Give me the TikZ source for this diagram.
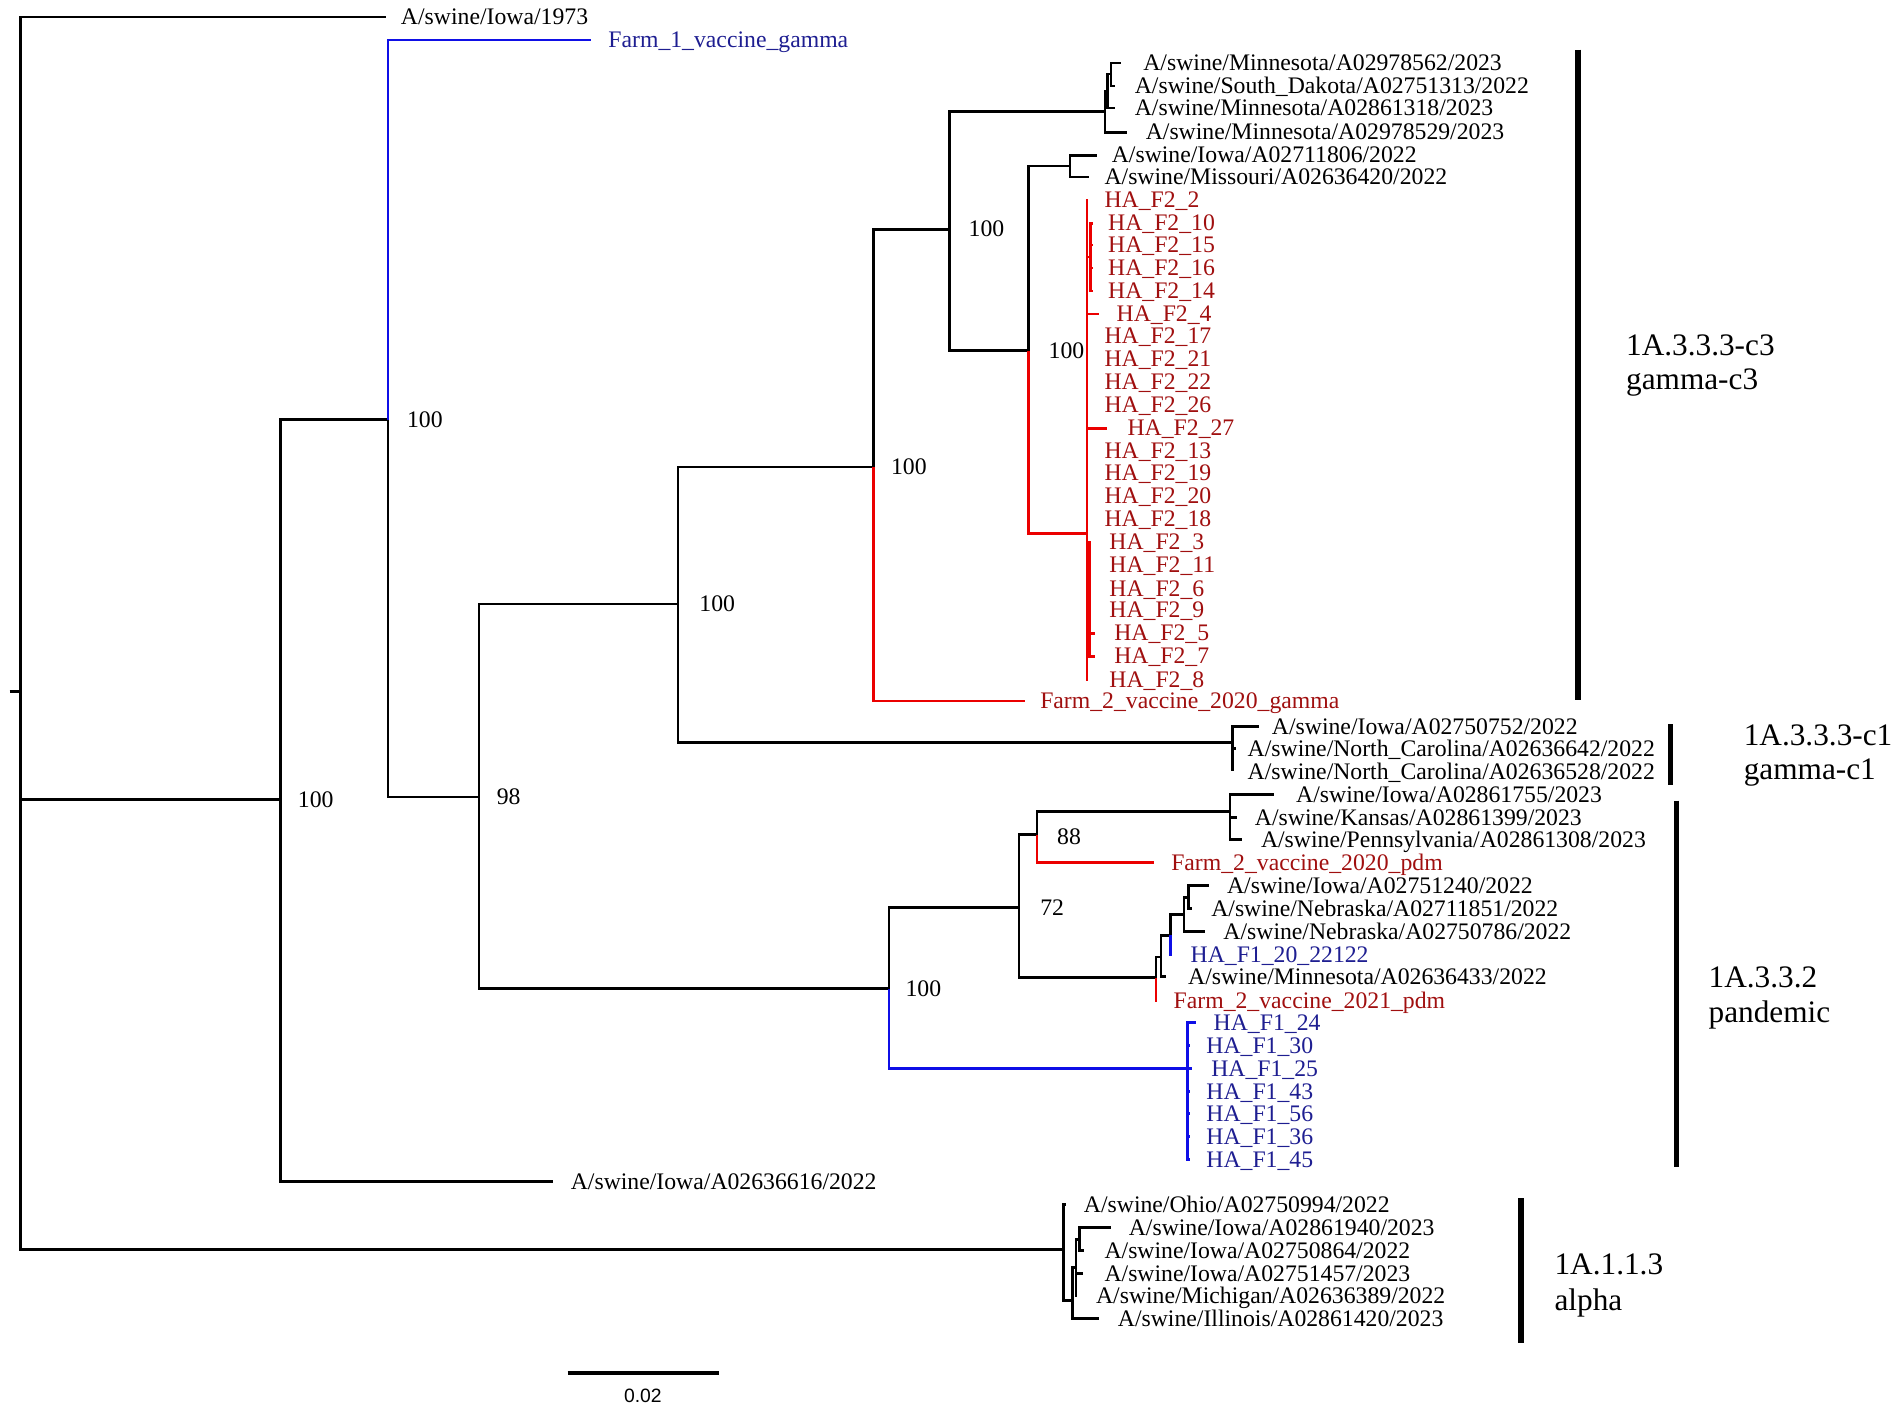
\documentclass[tikz,border=0pt]{standalone}
\usepackage{fontspec}
\setmainfont{Liberation Serif}
\newfontfamily\scalebarfont{Liberation Sans}
\definecolor{lred}{RGB}{235,0,0}
\definecolor{tred}{RGB}{160,15,15}
\definecolor{lblue}{RGB}{15,15,230}
\definecolor{tblue}{RGB}{30,30,145}
\newcommand{\phybr}[3][tree]{\draw[#1] (#2) |- (#3);}
\begin{document}
\begin{tikzpicture}[x=0.01213cm,y=-0.01213cm,
  tree/.style={line width=0.75pt,black},
  rtree/.style={line width=0.75pt,lred},
  btree/.style={line width=0.75pt,lblue},
  lbl/.style={anchor=base west,inner sep=0pt,yshift=-2.2pt,font=\fontsize{6.75}{7}\selectfont},
  rlbl/.style={lbl,text=tred},
  blbl/.style={lbl,text=tblue},
  cladebar/.style={line width=1.6pt},
  cladetxt/.style={anchor=base west,inner sep=0pt,font=\fontsize{8.9}{10}\selectfont}]
\useasboundingbox (0,0) rectangle (1568,1167);

% ---------- internal nodes ----------
\coordinate (stub) at (8,570);
\coordinate (root) at (17,570);
\coordinate (A) at (231,659);
\coordinate (B) at (320,346);
\coordinate (C) at (395,657);
\coordinate (D) at (559,498);
\coordinate (E) at (720,385);
\coordinate (F) at (783,189);
\coordinate (G) at (848,289);
\coordinate (M0) at (911,92);
\coordinate (M1) at (913,75);
\coordinate (M2) at (916,61);
\coordinate (IM) at (882,137);
\coordinate (H) at (896,440);
\coordinate (H1) at (899,212);
\coordinate (H2) at (898,494);
\coordinate (G1) at (1016,612);
\coordinate (P) at (733,815);
\coordinate (Q) at (840,748);
\coordinate (R) at (855,688);
\coordinate (T) at (1014,669);
\coordinate (S) at (953,806);
\coordinate (S2) at (957,789);
\coordinate (S3) at (965,771);
\coordinate (S4) at (976,754);
\coordinate (S5) at (980,740);
\coordinate (HF) at (979,881);
\coordinate (AL0) at (877,1030);
\coordinate (AL1) at (884,1072);
\coordinate (AL2) at (887,1045);
\coordinate (AL3) at (890,1022);

% ---------- tips ----------
\coordinate (t1973) at (318,14);
\coordinate (tF1) at (487,33);
\coordinate (t616) at (456,974);
\coordinate (tF2g) at (845,578);
\coordinate (t562) at (924,52);
\coordinate (tSD) at (919,71);
\coordinate (t318) at (919,89);
\coordinate (t529) at (929,109);
\coordinate (t806) at (904,128);
\coordinate (tMo) at (898,146);
\coordinate (h2) at (897,165);
\coordinate (h10) at (901,184);
\coordinate (h15) at (901,202);
\coordinate (h16) at (901,221);
\coordinate (h14) at (901,240);
\coordinate (h4) at (906,259);
\coordinate (h17) at (897,277);
\coordinate (h21) at (897,296);
\coordinate (h22) at (897,315);
\coordinate (h26) at (897,334);
\coordinate (h27) at (913,353);
\coordinate (h13) at (897,372);
\coordinate (h19) at (897,390);
\coordinate (h20) at (897,409);
\coordinate (h18) at (897,428);
\coordinate (h3) at (899,447);
\coordinate (h11) at (899,466);
\coordinate (h6) at (899,485);
\coordinate (h9) at (899,503);
\coordinate (h5) at (903,522);
\coordinate (h7) at (903,541);
\coordinate (h8) at (897,560);
\coordinate (t752) at (1038,599);
\coordinate (t642) at (1019,617);
\coordinate (t528) at (1016,636);
\coordinate (t755) at (1050,655);
\coordinate (t399) at (1020,674);
\coordinate (t308) at (1024,692);
\coordinate (tp20) at (951,711);
\coordinate (t240) at (997,730);
\coordinate (t851) at (983,749);
\coordinate (t786) at (993,768);
\coordinate (tF120) at (966,787);
\coordinate (t433) at (961,805);
\coordinate (tp21) at (953,826);
\coordinate (f24) at (986,843);
\coordinate (f30) at (981,862);
\coordinate (f25) at (983,881);
\coordinate (f43) at (981,900);
\coordinate (f56) at (981,918);
\coordinate (f36) at (981,937);
\coordinate (f45) at (981,956);
\coordinate (tOh) at (879,993);
\coordinate (t940) at (916,1012);
\coordinate (t864) at (894,1031);
\coordinate (t457) at (893,1050);
\coordinate (tMi) at (888,1068);
\coordinate (tIl) at (906,1087);

% ---------- branches ----------
\draw[tree] (stub) -- (root);
\phybr{root}{t1973}
\phybr{root}{A}
\phybr{root}{AL0}
\phybr{A}{B}
\phybr{A}{t616}
\phybr[btree]{B}{tF1}
\phybr{B}{C}
\phybr{C}{D}
\phybr{C}{P}
\phybr{D}{E}
\phybr{D}{G1}
\phybr{E}{F}
\phybr[rtree]{E}{tF2g}
\phybr{F}{M0}
\phybr{F}{G}
\phybr{M0}{M1}
\phybr{M0}{t529}
\phybr{M1}{M2}
\phybr{M1}{t318}
\phybr{M2}{t562}
\phybr{M2}{tSD}
\phybr{G}{IM}
\phybr[rtree]{G}{H}
\phybr{IM}{t806}
\phybr{IM}{tMo}
\phybr[rtree]{H}{h2}
\phybr[rtree]{H}{H1}
\phybr[rtree]{H1}{h10}
\phybr[rtree]{H1}{h15}
\phybr[rtree]{H1}{h16}
\phybr[rtree]{H1}{h14}
\phybr[rtree]{H}{h4}
\phybr[rtree]{H}{h17}
\phybr[rtree]{H}{h21}
\phybr[rtree]{H}{h22}
\phybr[rtree]{H}{h26}
\phybr[rtree]{H}{h27}
\phybr[rtree]{H}{h13}
\phybr[rtree]{H}{h19}
\phybr[rtree]{H}{h20}
\phybr[rtree]{H}{h18}
\phybr[rtree]{H}{H2}
\phybr[rtree]{H2}{h3}
\phybr[rtree]{H2}{h11}
\phybr[rtree]{H2}{h6}
\phybr[rtree]{H2}{h9}
\phybr[rtree]{H2}{h5}
\phybr[rtree]{H2}{h7}
\phybr[rtree]{H}{h8}
\phybr{G1}{t752}
\phybr{G1}{t642}
\phybr{G1}{t528}
\phybr{P}{Q}
\phybr[btree]{P}{HF}
\phybr{Q}{R}
\phybr{Q}{S}
\phybr{R}{T}
\phybr[rtree]{R}{tp20}
\phybr{T}{t755}
\phybr{T}{t399}
\phybr{T}{t308}
\phybr{S}{S2}
\phybr[rtree]{S}{tp21}
\phybr{S2}{S3}
\phybr{S2}{t433}
\phybr{S3}{S4}
\phybr[btree]{S3}{tF120}
\phybr{S4}{S5}
\phybr{S4}{t786}
\phybr{S5}{t240}
\phybr{S5}{t851}
\phybr[btree]{HF}{f24}
\phybr[btree]{HF}{f30}
\phybr[btree]{HF}{f25}
\phybr[btree]{HF}{f43}
\phybr[btree]{HF}{f56}
\phybr[btree]{HF}{f36}
\phybr[btree]{HF}{f45}
\phybr{AL0}{tOh}
\phybr{AL0}{AL1}
\phybr{AL1}{AL2}
\phybr{AL1}{tIl}
\phybr{AL2}{AL3}
\phybr{AL2}{t457}
\phybr{AL2}{tMi}
\phybr{AL3}{t940}
\phybr{AL3}{t864}

% ---------- bootstrap values ----------
\node[lbl] (bA) at (245,659) {100};
\node[lbl] (bB) at (335,346) {100};
\node[lbl] (bC) at (409,657) {98};
\node[lbl] (bD) at (576,498) {100};
\node[lbl] (bE) at (734,385) {100};
\node[lbl] (bF) at (798,189) {100};
\node[lbl] (bG) at (864,289) {100};
\node[lbl] (bP) at (746,815) {100};
\node[lbl] (bQ) at (857,748) {72};
\node[lbl] (bR) at (871,690) {88};

% ---------- taxon labels ----------
\node[lbl] (l1973) at (330,14) {A/swine/Iowa/1973};
\node[blbl] (lF1) at (501,33) {Farm\_1\_vaccine\_gamma};
\node[lbl] (l616) at (470,974) {A/swine/Iowa/A02636616/2022};
\node[rlbl] (lF2g) at (857,578) {Farm\_2\_vaccine\_2020\_gamma};
\node[lbl] (l562) at (942,52) {A/swine/Minnesota/A02978562/2023};
\node[lbl] (lSD) at (935,71) {A/swine/South\_Dakota/A02751313/2022};
\node[lbl] (l318) at (935,89) {A/swine/Minnesota/A02861318/2023};
\node[lbl] (l529) at (944,109) {A/swine/Minnesota/A02978529/2023};
\node[lbl] (l806) at (916,128) {A/swine/Iowa/A02711806/2022};
\node[lbl] (lMo) at (910,146) {A/swine/Missouri/A02636420/2022};
\node[rlbl] (lh2) at (910,165) {HA\_F2\_2};
\node[rlbl] (lh10) at (913,184) {HA\_F2\_10};
\node[rlbl] (lh15) at (913,202) {HA\_F2\_15};
\node[rlbl] (lh16) at (913,221) {HA\_F2\_16};
\node[rlbl] (lh14) at (913,240) {HA\_F2\_14};
\node[rlbl] (lh4) at (920,259) {HA\_F2\_4};
\node[rlbl] (lh17) at (910,277) {HA\_F2\_17};
\node[rlbl] (lh21) at (910,296) {HA\_F2\_21};
\node[rlbl] (lh22) at (910,315) {HA\_F2\_22};
\node[rlbl] (lh26) at (910,334) {HA\_F2\_26};
\node[rlbl] (lh27) at (929,353) {HA\_F2\_27};
\node[rlbl] (lh13) at (910,372) {HA\_F2\_13};
\node[rlbl] (lh19) at (910,390) {HA\_F2\_19};
\node[rlbl] (lh20) at (910,409) {HA\_F2\_20};
\node[rlbl] (lh18) at (910,428) {HA\_F2\_18};
\node[rlbl] (lh3) at (914,447) {HA\_F2\_3};
\node[rlbl] (lh11) at (914,466) {HA\_F2\_11};
\node[rlbl] (lh6) at (914,485) {HA\_F2\_6};
\node[rlbl] (lh9) at (914,503) {HA\_F2\_9};
\node[rlbl] (lh5) at (918,522) {HA\_F2\_5};
\node[rlbl] (lh7) at (918,541) {HA\_F2\_7};
\node[rlbl] (lh8) at (914,560) {HA\_F2\_8};
\node[lbl] (l752) at (1048,599) {A/swine/Iowa/A02750752/2022};
\node[lbl] (l642) at (1028,617) {A/swine/North\_Carolina/A02636642/2022};
\node[lbl] (l528) at (1028,636) {A/swine/North\_Carolina/A02636528/2022};
\node[lbl] (l755) at (1068,655) {A/swine/Iowa/A02861755/2023};
\node[lbl] (l399) at (1034,674) {A/swine/Kansas/A02861399/2023};
\node[lbl] (l308) at (1039,692) {A/swine/Pennsylvania/A02861308/2023};
\node[rlbl] (lp20) at (965,711) {Farm\_2\_vaccine\_2020\_pdm};
\node[lbl] (l240) at (1011,730) {A/swine/Iowa/A02751240/2022};
\node[lbl] (l851) at (998,749) {A/swine/Nebraska/A02711851/2022};
\node[lbl] (l786) at (1008,768) {A/swine/Nebraska/A02750786/2022};
\node[blbl] (lF120) at (981,787) {HA\_F1\_20\_22122};
\node[lbl] (l433) at (979,805) {A/swine/Minnesota/A02636433/2022};
\node[rlbl] (lp21) at (967,825) {Farm\_2\_vaccine\_2021\_pdm};
\node[blbl] (lf24) at (1000,843) {HA\_F1\_24};
\node[blbl] (lf30) at (994,862) {HA\_F1\_30};
\node[blbl] (lf25) at (998,881) {HA\_F1\_25};
\node[blbl] (lf43) at (994,900) {HA\_F1\_43};
\node[blbl] (lf56) at (994,918) {HA\_F1\_56};
\node[blbl] (lf36) at (994,937) {HA\_F1\_36};
\node[blbl] (lf45) at (994,956) {HA\_F1\_45};
\node[lbl] (lOh) at (893,993) {A/swine/Ohio/A02750994/2022};
\node[lbl] (l940) at (930,1012) {A/swine/Iowa/A02861940/2023};
\node[lbl] (l864) at (910,1031) {A/swine/Iowa/A02750864/2022};
\node[lbl] (l457) at (910,1050) {A/swine/Iowa/A02751457/2023};
\node[lbl] (lMi) at (903,1068) {A/swine/Michigan/A02636389/2022};
\node[lbl] (lIl) at (921,1087) {A/swine/Illinois/A02861420/2023};

% ---------- clade bars and names ----------
\coordinate (c3a) at (1301,41);  \coordinate (c3b) at (1301,577);
\coordinate (c1a) at (1377,597); \coordinate (c1b) at (1377,647);
\coordinate (pda) at (1382,660); \coordinate (pdb) at (1382,962);
\coordinate (ala) at (1254,988); \coordinate (alb) at (1254,1107);
\draw[cladebar] (c3a) -- (c3b);
\draw[cladebar] (c1a) -- (c1b);
\draw[cladebar] (pda) -- (pdb);
\draw[cladebar] (ala) -- (alb);
\node[cladetxt] (n3a) at (1340,293) {1A.3.3.3-c3};
\node[cladetxt] (n3b) at (1340,321) {gamma-c3};
\node[cladetxt] (n1a) at (1437,615) {1A.3.3.3-c1};
\node[cladetxt] (n1b) at (1437,643) {gamma-c1};
\node[cladetxt] (npa) at (1408,814) {1A.3.3.2};
\node[cladetxt] (npb) at (1408,843) {pandemic};
\node[cladetxt] (naa) at (1281,1051) {1A.1.1.3};
\node[cladetxt] (nab) at (1281,1080) {alpha};

% ---------- scale bar ----------
\coordinate (sb1) at (468,1132);
\coordinate (sb2) at (593,1132);
\draw[line width=1.1pt] (sb1) -- (sb2);
\node[inner sep=0pt,font=\scalebarfont\fontsize{5.5}{6}\selectfont] (sbl) at (530,1151) {0.02};
\end{tikzpicture}
\end{document}
